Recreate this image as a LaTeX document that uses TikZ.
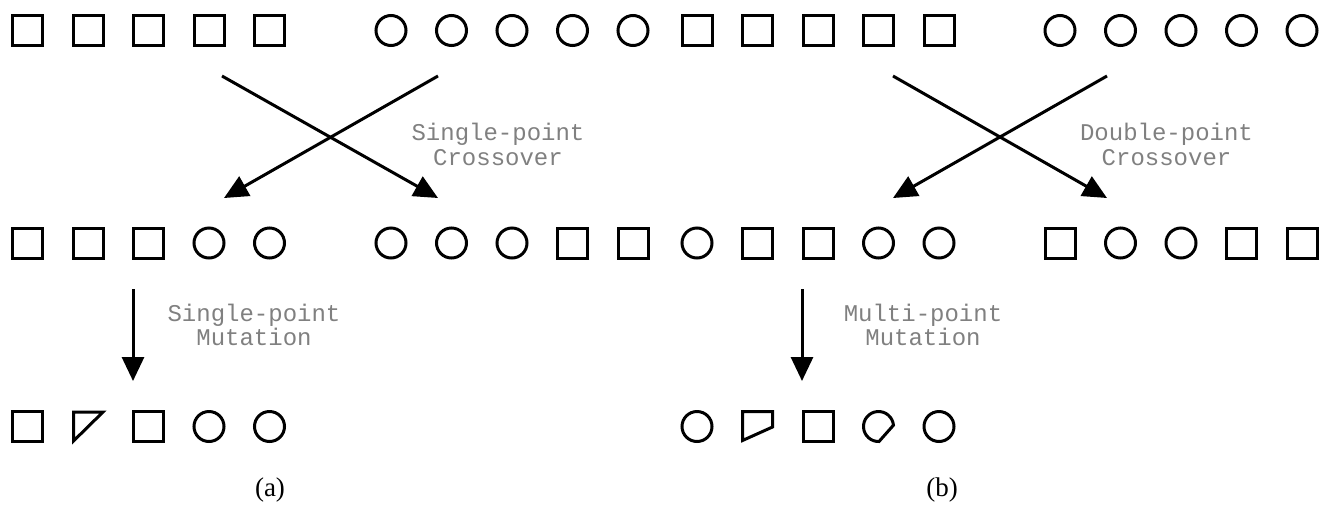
\documentclass[tikz,border=0pt]{standalone}
\usepackage{fontspec}
\setmainfont{Liberation Serif}
\newfontfamily\courierfont{Liberation Mono}
\usetikzlibrary{arrows.meta,calc}
\definecolor{labgray}{RGB}{128,128,128}
\tikzset{
  sq/.style={draw=black, line width=3pt, rectangle, minimum size=30pt, inner sep=0pt},
  ci/.style={draw=black, line width=3pt, circle, minimum size=30pt, inner sep=0pt},
  odd/.style={draw=black, line width=3pt},
  arr/.style={line width=3pt, -{Triangle[length=24pt,width=22pt]}},
  lab/.style={text=labgray, font=\courierfont\fontsize{24}{24.5}\selectfont, align=center, inner sep=0pt},
  captxt/.style={font=\fontsize{27}{29}\selectfont, inner sep=0pt}
}
\begin{document}
\begin{tikzpicture}[x=1pt,y=-1pt]
\useasboundingbox (0,0) rectangle (1334,515);
% top row
\foreach \i/\x in {1/27.5,2/88,3/148.5,4/209,5/269.5} \node[sq] (ta\i) at (\x,30.5) {};
\foreach \i/\x in {1/391,2/451.5,3/512,4/572.5,5/633} \node[ci] (tb\i) at (\x,30.5) {};
\foreach \i/\x in {1/697,2/757.5,3/818,4/878.5,5/939} \node[sq] (tc\i) at (\x,30.5) {};
\foreach \i/\x in {1/1060,2/1120.5,3/1181,4/1241.5,5/1302} \node[ci] (td\i) at (\x,30.5) {};
% middle row
\node[sq] (ma1) at (27.5,243) {};
\node[sq] (ma2) at (88,243) {};
\node[sq] (ma3) at (148.5,243) {};
\node[ci] (ma4) at (209,243) {};
\node[ci] (ma5) at (269.5,243) {};
\node[ci] (mb1) at (391,243) {};
\node[ci] (mb2) at (451.5,243) {};
\node[ci] (mb3) at (512,243) {};
\node[sq] (mb4) at (572.5,243) {};
\node[sq] (mb5) at (633,243) {};
\node[ci] (mc1) at (697,243) {};
\node[sq] (mc2) at (757.5,243) {};
\node[sq] (mc3) at (818,243) {};
\node[ci] (mc4) at (878.5,243) {};
\node[ci] (mc5) at (939,243) {};
\node[sq] (md1) at (1060,243) {};
\node[ci] (md2) at (1120.5,243) {};
\node[ci] (md3) at (1181,243) {};
\node[sq] (md4) at (1241.5,243) {};
\node[sq] (md5) at (1302,243) {};
% bottom row (a)
\node[sq] (ba1) at (27.5,426.5) {};
\draw[odd] (73.5,412) -- (103,412) -- (73.5,441) -- cycle;
\node[sq] (ba3) at (148.5,426.5) {};
\node[ci] (ba4) at (209,426.5) {};
\node[ci] (ba5) at (269.5,426.5) {};
% bottom row (b)
\node[ci] (bb1) at (697,426.5) {};
\draw[odd] (742.5,411.5) -- (772.5,411.5) -- (772.5,427) -- (742.5,440.5) -- cycle;
\node[sq] (bb3) at (818,426.5) {};
\coordinate (cc) at (878.5,426.5);
\draw[odd] ($(cc)+(5:15pt)$) arc[start angle=5, end angle=272, radius=15pt] -- cycle;
\node[ci] (bb5) at (939,426.5) {};
% crossover arrows (a)
\coordinate (xa1) at (222,76);
\coordinate (xa2) at (438,76);
\coordinate (ya1) at (224,198);
\coordinate (ya2) at (438,198);
\draw[arr] (xa1) -- (ya2);
\draw[arr] (xa2) -- (ya1);
\node[lab] (la) at (498,144.5) {Single-point\\Crossover};
% crossover arrows (b)
\coordinate (xb1) at (893,76);
\coordinate (xb2) at (1107,76);
\coordinate (yb1) at (893,198);
\coordinate (yb2) at (1107,198);
\draw[arr] (xb1) -- (yb2);
\draw[arr] (xb2) -- (yb1);
\node[lab] (lb) at (1166.5,144.5) {Double-point\\Crossover};
% mutation arrows
\coordinate (ma) at (133,289);
\coordinate (mae) at (133,381);
\draw[arr] (ma) -- (mae);
\node[lab] (lma) at (254,325) {Single-point\\Mutation};
\coordinate (mb) at (802,289);
\coordinate (mbe) at (802,381);
\draw[arr] (mb) -- (mbe);
\node[lab] (lmb) at (923,325) {Multi-point\\Mutation};
% captions
\node[captxt] (capa) at (270,490) {(a)};
\node[captxt] (capb) at (942,490) {(b)};
\end{tikzpicture}
\end{document}
